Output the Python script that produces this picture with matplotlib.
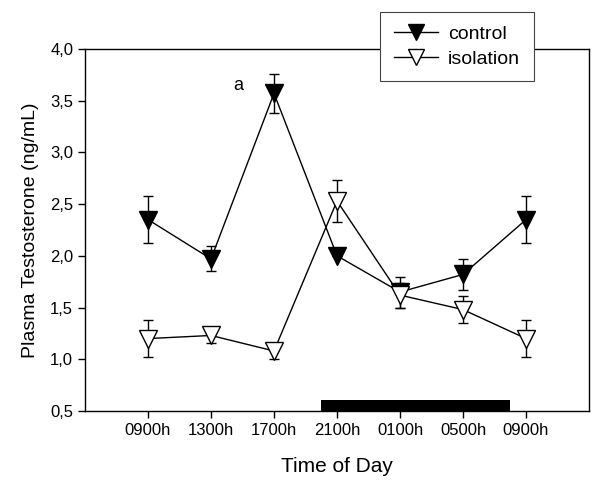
import numpy as np
import matplotlib
matplotlib.use('Agg')
import matplotlib.pyplot as plt

plt.rcParams['font.family'] = ['Liberation Sans', 'DejaVu Sans']

# data
times = ['0900h', '1300h', '1700h', '2100h', '0100h', '0500h', '0900h']
control = [2.35, 1.97, 3.57, 2.00, 1.65, 1.82, 2.35]
control_err = [0.23, 0.12, 0.19, 0.00, 0.15, 0.15, 0.23]
isolation = [1.20, 1.23, 1.08, 2.53, 1.62, 1.48, 1.20]
isolation_err = [0.18, 0.07, 0.08, 0.20, 0.12, 0.13, 0.18]
dark_start, dark_end = 3.75, 6.75   # dark phase bar (x positions)

x = np.arange(1, len(times) + 1)

fig = plt.figure(figsize=(6.0, 4.88), dpi=100)
ax = fig.add_axes([0.1417, 0.1578, 0.84, 0.742])

c = ax.errorbar(x, control, yerr=control_err, fmt='-v', color='black', mfc='black', mec='black',
                ms=12.5, lw=1, elinewidth=1, capsize=3.5, capthick=1, zorder=3)
i = ax.errorbar(x, isolation, yerr=isolation_err, fmt='-v', color='black', mfc='white', mec='black',
                ms=12.5, lw=1, elinewidth=1, capsize=3.5, capthick=1, zorder=4)

# dark bar on the x axis
ax.fill_between([dark_start, dark_end], 0.5, 0.605, color='black', lw=0, zorder=2)

ax.text(2.44, 3.65, 'a', fontsize=13, ha='center', va='center')

ax.set_xlim(0, 8)
ax.set_ylim(0.5, 4.0)
ax.set_xticks(x)
ax.set_xticklabels(times, fontsize=12)
yt = np.arange(0.5, 4.01, 0.5)
ax.set_yticks(yt)
ax.set_yticklabels([('%.1f' % v).replace('.', ',') for v in yt], fontsize=12)
ax.tick_params(direction='out', length=5, width=1, top=False, right=False)
for s in ax.spines.values():
    s.set_linewidth(1)

ax.set_xlabel('Time of Day', fontsize=15, labelpad=14)
ax.set_ylabel('Plasma Testosterone (ng/mL)', fontsize=14, labelpad=8)

leg = ax.legend([c[0], i[0]], ['control', 'isolation'],
                loc='upper left', bbox_to_anchor=(380/600, 1 - 12/488), bbox_transform=fig.transFigure,
                fontsize=14, frameon=True, fancybox=False, edgecolor='#444444', framealpha=1,
                handlelength=2.3, borderpad=0.7, labelspacing=0.35, handletextpad=0.5,
                borderaxespad=0, markerscale=0.95)
leg.get_frame().set_linewidth(0.8)
leg.set_zorder(10)

fig.savefig('out.png', dpi=100)
